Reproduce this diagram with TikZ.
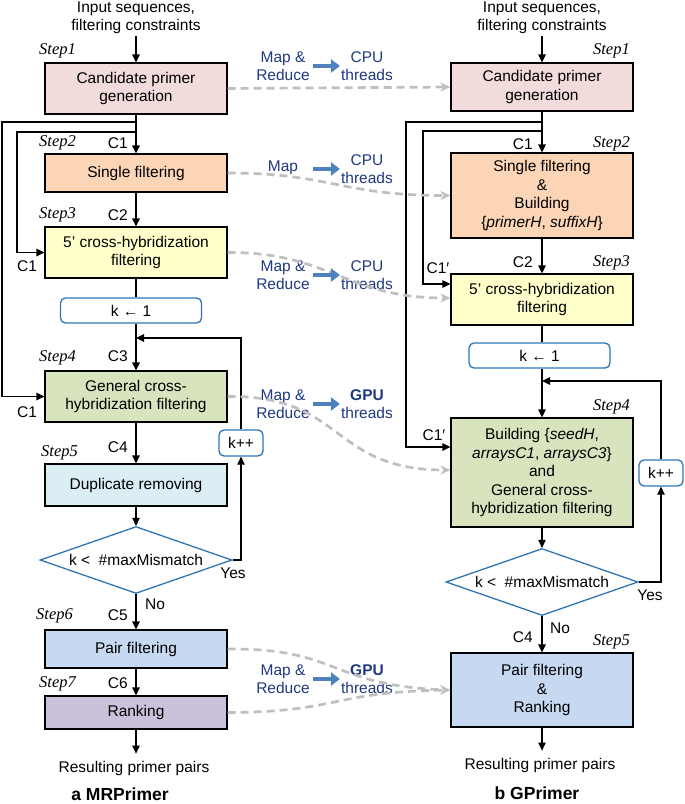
\documentclass[tikz,border=0pt]{standalone}
\usepackage{fontspec}
\setmainfont{Liberation Sans}
\newfontfamily\stepfont{Liberation Serif}
\usetikzlibrary{shapes.geometric,arrows.meta}
\definecolor{pinkfill}{HTML}{F2DCDB}
\definecolor{orangefill}{HTML}{FBD5B5}
\definecolor{yellowfill}{HTML}{FFFFCC}
\definecolor{greenfill}{HTML}{D7E4BD}
\definecolor{cyanfill}{HTML}{DBEEF4}
\definecolor{bluefill}{HTML}{C6D9F1}
\definecolor{purplefill}{HTML}{CCC1DA}
\definecolor{kblue}{HTML}{2E75B6}
\definecolor{navy}{HTML}{203880}
\definecolor{arrowblue}{HTML}{4F81BD}
\definecolor{dashgray}{HTML}{BFBFBF}
\tikzset{
	every node/.style={font=\fontsize{15.5}{18.5}\selectfont, inner sep=2pt},
	procbox/.style={draw=black, line width=1.2pt, minimum width=182pt, align=center, inner sep=0pt},
	kbox/.style={draw=kblue, line width=1.3pt, rounded corners=5pt, fill=white, minimum height=25pt, inner sep=0pt},
	cond/.style={diamond, draw=kblue, line width=1.3pt, aspect=2.87, minimum width=192pt, minimum height=67pt, inner sep=0pt},
	steplab/.style={font=\stepfont\itshape\fontsize{16.5}{18}\selectfont},
	navylab/.style={text=navy, align=center},
	flow/.style={draw=black, line width=1.2pt, -{Triangle[length=8pt,width=7.5pt]}},
	dashflow/.style={draw=dashgray, line width=2.7pt, dash pattern=on 8pt off 5pt, -{Stealth[length=10pt,width=9pt]}},
	bluearrow/.style={draw=arrowblue, line width=4.5pt, -{Triangle[length=9pt,width=13pt]}}
}
\begin{document}
\begin{tikzpicture}[x=1pt, y=-1pt]
	\useasboundingbox (0,0) rectangle (685,804);
	\node[align=center] (ain) at (136,18) {Input sequences,\\filtering constraints};
	\node[procbox, fill=pinkfill, minimum height=51pt] (a1) at (136,88.5) {Candidate primer\\generation};
	\node[procbox, fill=orangefill, minimum height=38pt] (a2) at (136,173) {Single filtering};
	\node[procbox, fill=yellowfill, minimum height=51pt] (a3) at (136,252.5) {5’ cross-hybridization\\filtering};
	\node[kbox, minimum width=141pt] (ak1) at (131,310.5) {k ← 1};
	\node[procbox, fill=greenfill, minimum height=51pt] (a4) at (136,396.5) {General cross-\\hybridization filtering};
	\node[procbox, fill=cyanfill, minimum height=42pt] (a5) at (136,485) {Duplicate removing};
	\node[cond] (ad) at (136,560) {k <\ \ \#maxMismatch};
	\node[kbox, minimum width=44pt, minimum height=26pt] (akpp) at (241,443) {k++};
	\node[procbox, fill=bluefill, minimum height=38pt] (a6) at (136,649) {Pair filtering};
	\node[procbox, fill=purplefill, minimum height=33pt] (a7) at (136,712.5) {Ranking};
	\node (aout) at (134,768) {Resulting primer pairs};
	\node[font=\bfseries\fontsize{17.5}{20}\selectfont] (acap) at (120,794) {a MRPrimer};
	\node[steplab, anchor=west] (as1) at (37,51) {Step1};
	\node[steplab, anchor=west] (as2) at (37,143) {Step2};
	\node[steplab, anchor=west] (as3) at (37,215) {Step3};
	\node[steplab, anchor=west] (as4) at (37,358) {Step4};
	\node[steplab, anchor=west] (as5) at (39,453) {Step5};
	\node[steplab, anchor=west] (as6) at (34,616) {Step6};
	\node[steplab, anchor=west] (as7) at (37,684) {Step7};
	\node[anchor=east] (ac1) at (130,143) {C1};
	\node[anchor=east] (ac2) at (130,215) {C2};
	\node[anchor=east] (ac3) at (130,356) {C3};
	\node[anchor=east] (ac4) at (130,447) {C4};
	\node[anchor=east] (ac5) at (130,615) {C5};
	\node[anchor=east] (ac6) at (130,683) {C6};
	\node (ac1b) at (27,266) {C1};
	\node (ac1c) at (27,412) {C1};
	\node (ayes) at (233,573) {Yes};
	\node (ano) at (155,604) {No};
	\coordinate (aj1) at (136,122);
	\coordinate (aj2) at (136,132);
	\coordinate (aj3) at (136,338);
	\draw[flow] (ain.south) -- (a1.north);
	\draw[flow] (a1.south) -- (a2.north);
	\draw[flow] (aj1) -- ++(-134,0) |- (a4.west);
	\draw[flow] (aj2) -- ++(-119,0) |- (a3.west);
	\draw[flow] (a2.south) -- (a3.north);
	\draw[line width=1.2pt] (a3.south) -- (a3.south |- ak1.north);
	\draw[flow] (a3.south |- ak1.south) -- (a4.north);
	\draw[flow] (a4.south) -- (a5.north);
	\draw[flow] (a5.south) -- (ad.north);
	\draw[flow] (ad.south) -- (a6.north);
	\draw[flow] (a6.south) -- (a7.north);
	\draw[flow, shorten >=5pt] (a7.south) -- (a7.south |- aout.north);
	\draw[flow] (ad.east) -| (akpp.south);
	\draw[flow] (akpp.north) |- (aj3);
	\node[align=center] (bin) at (542,18) {Input sequences,\\filtering constraints};
	\node[procbox, fill=pinkfill, minimum height=48pt] (b1) at (542,87) {Candidate primer\\generation};
	\node[procbox, fill=orangefill, minimum height=85pt] (b2) at (542,195.5) {Single filtering\\\&\\Building\\\{\textit{primerH}, \textit{suffixH}\}};
	\node[procbox, fill=yellowfill, minimum height=51pt] (b3) at (542,299.5) {5’ cross-hybridization\\filtering};
	\node[kbox, minimum width=141pt] (bk1) at (539.5,355.5) {k ← 1};
	\node[procbox, fill=greenfill, minimum height=109pt] (b4) at (542,472.5) {Building \{\textit{seedH},\\\textit{arraysC1}, \textit{arraysC3}\}\\and\\General cross-\\hybridization filtering};
	\node[cond] (bd) at (542,582) {k <\ \ \#maxMismatch};
	\node[kbox, minimum width=44pt, minimum height=26pt] (bkpp) at (661,473) {k++};
	\node[procbox, fill=bluefill, minimum height=74pt] (b5) at (542,690) {Pair filtering\\\&\\Ranking};
	\node (bout) at (540,765) {Resulting primer pairs};
	\node[font=\bfseries\fontsize{17.5}{20}\selectfont] (bcap) at (537,793) {b GPrimer};
	\node[steplab, anchor=east] (bs1) at (632,51) {Step1};
	\node[steplab, anchor=east] (bs2) at (632,144) {Step2};
	\node[steplab, anchor=east] (bs3) at (632,263) {Step3};
	\node[steplab, anchor=east] (bs4) at (632,407) {Step4};
	\node[steplab, anchor=east] (bs5) at (632,642) {Step5};
	\node[anchor=east] (bc1) at (535,144) {C1};
	\node[anchor=east] (bc2) at (535,262) {C2};
	\node[anchor=east] (bc4) at (535,637) {C4};
	\node (bc1b) at (438,268) {C1′};
	\node (bc1c) at (434,435) {C1′};
	\node (byes) at (650,595) {Yes};
	\node (bno) at (560,628) {No};
	\coordinate (bj1) at (542,122);
	\coordinate (bj2) at (542,131);
	\coordinate (bj3) at (542,381);
	\draw[flow] (bin.south) -- (b1.north);
	\draw[flow] (b1.south) -- (b2.north);
	\draw[flow] (bj1) -- ++(-136,0) |- ([yshift=25.5pt]b4.west);
	\draw[flow] (bj2) -- ++(-119,0) |- ([yshift=15.5pt]b3.west);
	\draw[flow] (b2.south) -- (b3.north);
	\draw[line width=1.2pt] (b3.south) -- (b3.south |- bk1.north);
	\draw[flow] (b3.south |- bk1.south) -- (b4.north);
	\draw[flow] (b4.south) -- (bd.north);
	\draw[flow] (bd.south) -- (b5.north);
	\draw[flow, shorten >=5pt] (b5.south) -- (b5.south |- bout.north);
	\draw[flow] (bd.east) -| (bkpp.south);
	\draw[flow] (bkpp.north) |- (bj3);
	\node[navylab] (m1) at (283,66) {Map \&\\Reduce};
	\node[navylab] (t1) at (367,66) {CPU\\threads};
	\node[navylab] (m2) at (283,168) {Map};
	\node[navylab] (t2) at (367,169) {CPU\\threads};
	\node[navylab] (m3) at (283,275) {Map \&\\Reduce};
	\node[navylab] (t3) at (367,275) {CPU\\threads};
	\node[navylab] (m4) at (283,404) {Map \&\\Reduce};
	\node[navylab] (t4) at (367,404) {\textbf{GPU}\\threads};
	\node[navylab] (m5) at (283,679) {Map \&\\Reduce};
	\node[navylab] (t5) at (367,679) {\textbf{GPU}\\threads};
	\draw[dashflow] (a1.east) -- (b1.west);
	\draw[dashflow] (a2.east) .. controls (330,173) and (340,195.5) .. (b2.west);
	\draw[dashflow] (a3.east) .. controls (330,252) and (345,298) .. ([yshift=1.5pt]b3.west);
	\draw[dashflow] (a4.east) .. controls (345,395) and (330,470) .. ([yshift=2.5pt]b4.west);
	\draw[dashflow] (a6.east) .. controls (340,648) and (330,686) .. (b5.west);
	\draw[dashflow] (a7.east) .. controls (340,712) and (330,692) .. (b5.west);
	\draw[bluearrow] ([xshift=-26pt]t1.west) -- ([xshift=1pt]t1.west);
	\draw[bluearrow] ([xshift=-26pt]t2.west) -- ([xshift=1pt]t2.west);
	\draw[bluearrow] ([xshift=-26pt]t3.west) -- ([xshift=1pt]t3.west);
	\draw[bluearrow] ([xshift=-26pt]t4.west) -- ([xshift=1pt]t4.west);
	\draw[bluearrow] ([xshift=-26pt]t5.west) -- ([xshift=1pt]t5.west);
\end{tikzpicture}
\end{document}
